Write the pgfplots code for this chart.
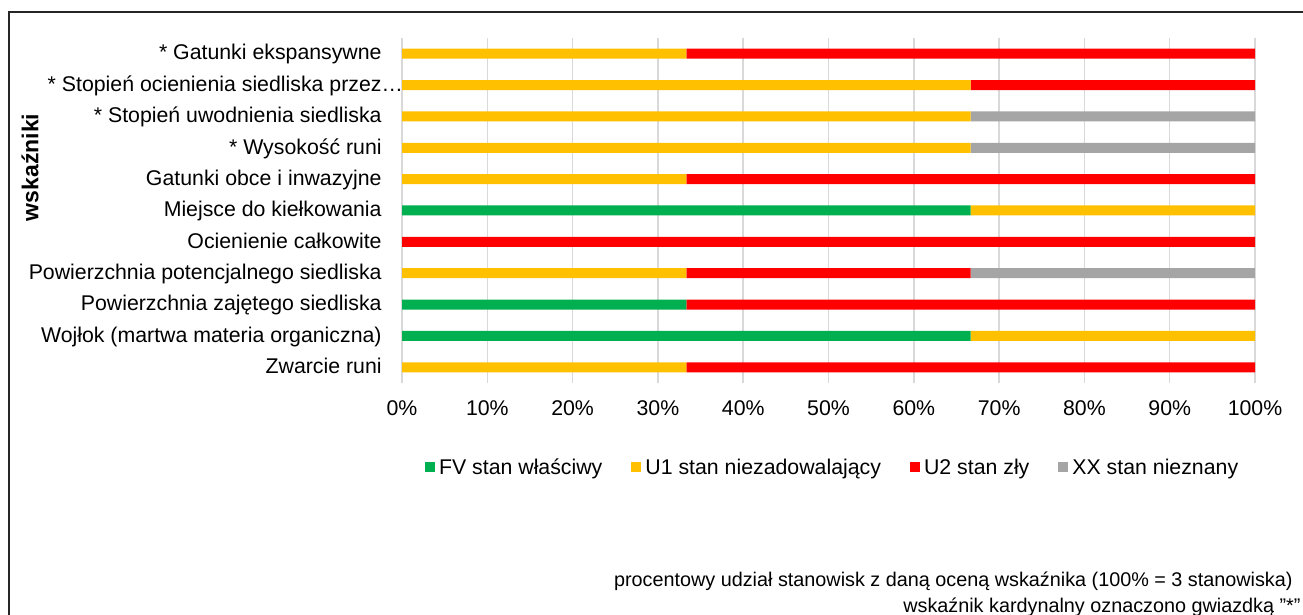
\documentclass[border=0pt]{standalone}
\usepackage{fontspec}
\setmainfont{Liberation Sans}
\usepackage{pgfplots}
\pgfplotsset{compat=1.18}
\definecolor{fvcol}{HTML}{00B050}
\definecolor{uonecol}{HTML}{FFC000}
\definecolor{utwocol}{HTML}{FF0000}
\definecolor{xxcol}{HTML}{A5A5A5}
\definecolor{gridcol}{HTML}{D9D9D9}
\newcommand{\chartfont}{\fontsize{10.65bp}{12.8bp}\selectfont}
\newcommand{\notefont}{\fontsize{9.9bp}{12bp}\selectfont}

\begin{document}
\chartfont
\begin{tikzpicture}[x=0.5bp,y=0.5bp]
\useasboundingbox (0,0) rectangle (1303,615);
\draw[line width=0.9bp,black!85] (9,-30) -- (9,603) -- (1340,603);
\begin{axis}[
    at={(201bp,116bp)}, anchor=south west,
    scale only axis, width=426.5bp, height=172.5bp,
    xbar stacked, bar width=5bp,
    xmin=0, xmax=100, ymin=-0.5, ymax=10.5, y dir=reverse,
    ytick={0,...,10},
    yticklabels={{* Gatunki ekspansywne},{* Stopień ocienienia siedliska przez\rlap{…}},{* Stopień uwodnienia siedliska},{* Wysokość runi},{Gatunki obce i inwazyjne},{Miejsce do kiełkowania},{Ocienienie całkowite},{Powierzchnia potencjalnego siedliska},{Powierzchnia zajętego siedliska},{Wojłok (martwa materia organiczna)},{Zwarcie runi}},
    xtick={0,10,...,100},
    xticklabels={0\%,10\%,20\%,30\%,40\%,50\%,60\%,70\%,80\%,90\%,100\%},
    axis line style={draw=none},
    major tick length=0pt,
    xmajorgrids, grid style={draw=gridcol,line width=0.75bp},
    ticklabel style={font=\chartfont,inner sep=0pt},
    yticklabel style={anchor=base east,xshift=-10bp,yshift=-3.15bp},
    xticklabel style={anchor=north,yshift=-8.5bp},
    legend columns=4,
    legend image code/.code={\fill[#1] (0bp,1.3bp) rectangle (5bp,6.3bp);},
    legend style={at={(0.506,-0.246)},anchor=center,draw=none,fill=none,
        font=\chartfont,
        nodes={inner xsep=2bp,inner ysep=0pt,anchor=base west},
        /tikz/every even column/.append style={column sep=12.5bp}},
]
\addplot[fill=fvcol,draw=none] coordinates {(0,0) (0,1) (0,2) (0,3) (0,4) (66.67,5) (0,6) (0,7) (33.33,8) (66.67,9) (0,10)};
\addplot[fill=uonecol,draw=none] coordinates {(33.33,0) (66.67,1) (66.67,2) (66.67,3) (33.33,4) (33.33,5) (0,6) (33.33,7) (0,8) (33.33,9) (33.33,10)};
\addplot[fill=utwocol,draw=none] coordinates {(66.67,0) (33.33,1) (0,2) (0,3) (66.67,4) (0,5) (100,6) (33.33,7) (66.67,8) (0,9) (66.67,10)};
\addplot[fill=xxcol,draw=none] coordinates {(0,0) (0,1) (33.33,2) (33.33,3) (0,4) (0,5) (0,6) (33.33,7) (0,8) (0,9) (0,10)};
\legend{FV stan właściwy,U1 stan niezadowalający,U2 stan zły,XX stan nieznany}
\end{axis}
\node[rotate=90,inner sep=0pt,font=\fontsize{11.5bp}{13bp}\selectfont\bfseries] at (30,447.5) {wskaźniki};
\node[anchor=base east,inner sep=0pt,font=\notefont] at (1293,28.3) {procentowy udział stanowisk z daną oceną wskaźnika (100\% = 3 stanowiska)};
\node[anchor=base east,inner sep=0pt,font=\notefont] at (1301,2) {wskaźnik kardynalny oznaczono gwiazdką "*"};
\end{tikzpicture}
\end{document}
